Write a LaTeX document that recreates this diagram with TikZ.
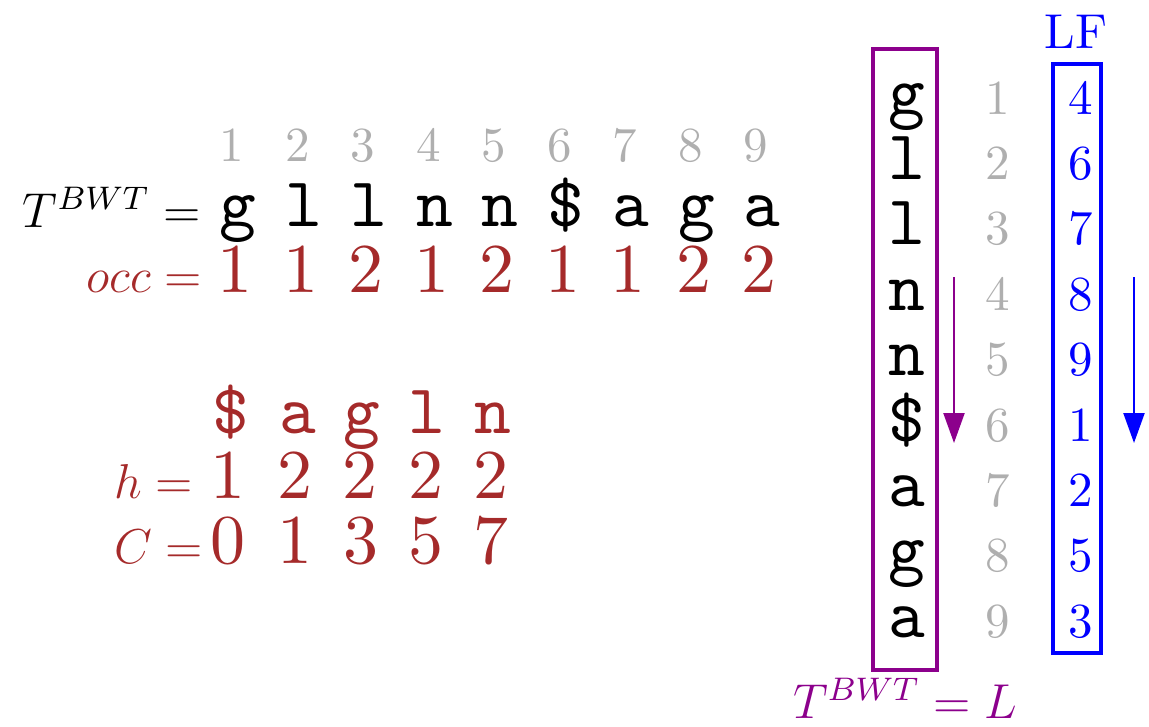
\documentclass[tikz,border=0pt]{standalone}
\usetikzlibrary{arrows.meta}
\definecolor{myred}{RGB}{165,42,42}
\definecolor{mypurple}{RGB}{140,0,140}
\definecolor{mygray}{RGB}{175,175,175}
\definecolor{myblue}{RGB}{0,0,255}
\begin{document}
\begin{tikzpicture}[x=1pt,y=-1pt,
  lab/.style={inner sep=0pt, outer sep=0pt, anchor=base},
  normf/.style={font=\fontsize{10}{10}\selectfont, scale=4.9},
  bigf/.style={font=\fontsize{10}{10}\selectfont, scale=7.0},
  mathf/.style={inner sep=0pt, outer sep=0pt, font=\fontsize{12}{12}\selectfont, scale=4.083},
  idx/.style={lab, normf, text=mygray},
  ttch/.style={lab, bigf, font=\fontsize{10}{10}\selectfont\ttfamily},
  redd/.style={lab, bigf, text=myred},
  boxL/.style={draw=mypurple, line width=4pt, rectangle, inner sep=0pt},
  boxB/.style={draw=myblue, line width=4pt, rectangle, inner sep=0pt},
  arr/.style={line width=2.2pt, -{Triangle[length=30pt,width=21pt]}}
]
\useasboundingbox (0,0) rectangle (1149,726);

% ---- top-left: T^BWT row ----
\foreach \i in {1,...,9} {
  \node[idx] (top\i) at ({232+65.5*(\i-1)},161) {\i};
}
\foreach \c [count=\i] in {g,l,l,n,n,\$,a,g,a} {
  \node[ttch] (tb\i) at ({238+65.5*(\i-1)},226) {\c};
}
\foreach \c [count=\i] in {1,1,2,1,2,1,1,2,2} {
  \node[redd] (occ\i) at ({235+65.5*(\i-1)},292) {\c};
}
\node[mathf, anchor=base east] (tlab) at (201,227) {$T^{BWT} =$};
\node[mathf, anchor=base east, text=myred] (occlab) at (202,292) {$occ =$};

% ---- bottom-left: h and C ----
\foreach \c/\x [count=\i] in {\$/231,a/298,g/362,l/427,n/493} {
  \node[ttch, text=myred] (hc\i) at (\x,433) {\c};
}
\foreach \c/\x [count=\i] in {1/228,2/295,2/360,2/426,2/491} {
  \node[redd] (h\i) at (\x,498) {\c};
}
\foreach \c/\x [count=\i] in {0/228,1/295,3/361,5/426,7/491} {
  \node[redd] (C\i) at (\x,563) {\c};
}
\node[mathf, anchor=base east, text=myred] (hlab) at (193,498) {$h =$};
\node[mathf, anchor=base east, text=myred] (Clab) at (203,563) {$C =$};

% ---- right: L column, indices, LF ----
\node[boxL, minimum width=64pt, minimum height=621pt] (Lbox) at (905,359.5) {};
\node[boxB, minimum width=48pt, minimum height=589pt] (LFbox) at (1077,358.5) {};
\foreach \c [count=\i] in {g,l,l,n,n,\$,a,g,a} {
  \node[ttch] (L\i) at (907,{114+65.4*(\i-1)}) {\c};
}
\foreach \i in {1,...,9} {
  \node[idx] (r\i) at (998,{114+65.4*(\i-1)}) {\i};
}
\foreach \v [count=\i] in {4,6,7,8,9,1,2,5,3} {
  \node[lab, normf, text=myblue] (lf\i) at (1081,{114+65.4*(\i-1)}) {\v};
}
\node[lab, normf, text=myblue] (LFlab) at (1076,48) {LF};
\node[mathf, anchor=base west, text=mypurple] (Llab) at (793,718) {$T^{BWT} = L$};

% ---- arrows ----
\coordinate (pa1) at (954,277);
\coordinate (pa2) at (954,443);
\coordinate (ba1) at (1134,277);
\coordinate (ba2) at (1134,443);
\draw[arr, draw=mypurple, fill=mypurple] (pa1) -- (pa2);
\draw[arr, draw=myblue, fill=myblue] (ba1) -- (ba2);
\end{tikzpicture}
\end{document}
